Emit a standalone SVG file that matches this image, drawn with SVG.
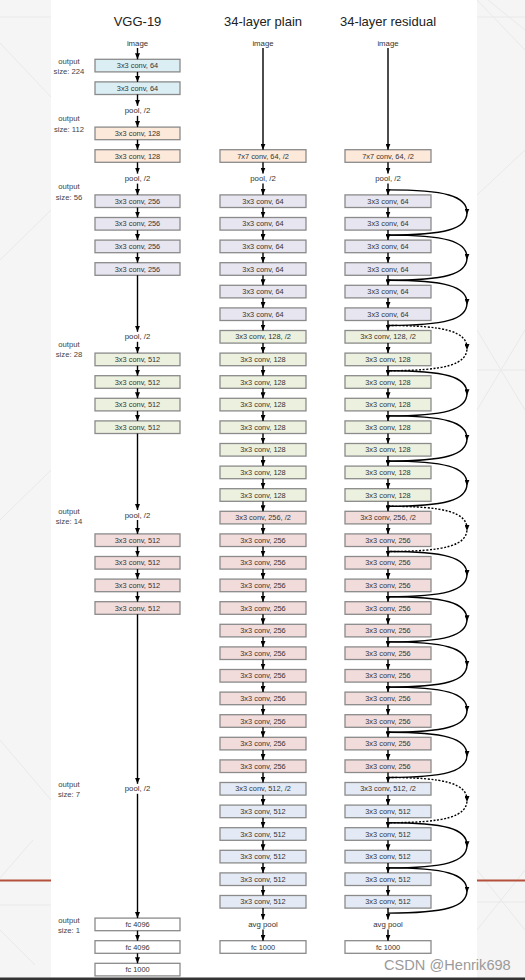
<svg xmlns="http://www.w3.org/2000/svg" width="525" height="980" viewBox="0 0 525 980">
<style>
.bg{fill:#f5f5f5}
.panel{fill:#ffffff}
.deco{stroke:#e9e9e9;stroke-width:1;fill:none}
.b{stroke:#8a8a8a;stroke-width:1.3}
.c1{fill:#daeef3}.c2{fill:#fde9d9}.c3{fill:#e7e5ef}.c4{fill:#ebf1de}.c5{fill:#f2dcdb}.c6{fill:#e4eaf5}.fc{fill:#ffffff}
text{font-family:"Liberation Sans",Arial,sans-serif;text-anchor:middle;dominant-baseline:central;fill:#333}
.bt{font-size:7.4px}
.lb{font-size:7.8px}
.out{font-size:7.7px;fill:#444}
.title{font-size:13px;fill:#222}
.a{stroke:#000;stroke-width:1.4;fill:none;marker-end:url(#ah)}
.s{stroke:#000;stroke-width:1.4;fill:none;marker-mid:url(#am)}
.d{stroke-dasharray:2 1.6}
.wm{font-size:14.6px;fill:#9a9a9a;text-anchor:start}
</style>
<defs>
<marker id="ah" viewBox="0 0 6 5" refX="6" refY="2.5" markerWidth="6" markerHeight="5" orient="auto" markerUnits="userSpaceOnUse"><path d="M0,0L6,2.5L0,5z" fill="#000"/></marker>
<marker id="am" viewBox="0 0 6 5" refX="4" refY="2.5" markerWidth="6" markerHeight="5" orient="auto" markerUnits="userSpaceOnUse"><path d="M0,0L6,2.5L0,5z" fill="#000"/></marker>
</defs>
<g id="background">
<rect class="bg" x="0" y="0" width="525" height="980"/>
<rect class="panel" x="51" y="0" width="426" height="978"/>
<path class="deco" d="M0,17H51M477,17H525M0,43L51,97M0,260L51,210M0,520L51,470M0,740L51,800M0,905H51M0,930L35,965M33,840L0,878M477,0L525,50M488,0L525,30M477,330L525,410M477,410L525,330M477,370H525M477,870L525,930M477,930L525,870M477,902H525M477,195L525,150"/>
<path d="M0,880.5H51M477,880.5H525" stroke="#b5503c" stroke-width="2"/>
<rect x="0" y="977.5" width="525" height="2.5" fill="#333"/>
</g>
<g id="titles">
<text class="title" x="137.5" y="21">VGG-19</text>
<text class="title" x="263" y="21">34-layer plain</text>
<text class="title" x="388" y="21">34-layer residual</text>
</g>
<g id="output-labels">
<text class="out" x="69" y="61">output</text><text class="out" x="69" y="71.5">size: 224</text>
<text class="out" x="69" y="118">output</text><text class="out" x="69" y="129">size: 112</text>
<text class="out" x="69" y="186">output</text><text class="out" x="69" y="197">size: 56</text>
<text class="out" x="69" y="344">output</text><text class="out" x="69" y="354.5">size: 28</text>
<text class="out" x="69" y="511.5">output</text><text class="out" x="69" y="521">size: 14</text>
<text class="out" x="69" y="784">output</text><text class="out" x="69" y="794.5">size: 7</text>
<text class="out" x="69" y="920">output</text><text class="out" x="69" y="930.5">size: 1</text>
</g>
<g id="vgg">
<g id="vgg-image"><text class="lb" x="137.5" y="43">image</text></g>
<g id="vgg-1" transform="translate(95,65.6)"><rect class="b c1" y="-6.3" width="85" height="12.6"/><text class="bt" x="42.5">3x3 conv, 64</text></g>
<g id="vgg-2" transform="translate(95,88.2)"><rect class="b c1" y="-6.3" width="85" height="12.6"/><text class="bt" x="42.5">3x3 conv, 64</text></g>
<g id="vgg-pool1"><text class="lb" x="137.5" y="110.8">pool, /2</text></g>
<g id="vgg-3" transform="translate(95,133.4)"><rect class="b c2" y="-6.3" width="85" height="12.6"/><text class="bt" x="42.5">3x3 conv, 128</text></g>
<g id="vgg-4" transform="translate(95,156)"><rect class="b c2" y="-6.3" width="85" height="12.6"/><text class="bt" x="42.5">3x3 conv, 128</text></g>
<g id="vgg-pool2"><text class="lb" x="137.5" y="178.6">pool, /2</text></g>
<g id="vgg-5" transform="translate(95,201.2)"><rect class="b c3" y="-6.3" width="85" height="12.6"/><text class="bt" x="42.5">3x3 conv, 256</text></g>
<g id="vgg-6" transform="translate(95,223.8)"><rect class="b c3" y="-6.3" width="85" height="12.6"/><text class="bt" x="42.5">3x3 conv, 256</text></g>
<g id="vgg-7" transform="translate(95,246.4)"><rect class="b c3" y="-6.3" width="85" height="12.6"/><text class="bt" x="42.5">3x3 conv, 256</text></g>
<g id="vgg-8" transform="translate(95,269)"><rect class="b c3" y="-6.3" width="85" height="12.6"/><text class="bt" x="42.5">3x3 conv, 256</text></g>
<g id="vgg-pool3"><text class="lb" x="137.5" y="336.8">pool, /2</text></g>
<g id="vgg-9" transform="translate(95,359.4)"><rect class="b c4" y="-6.3" width="85" height="12.6"/><text class="bt" x="42.5">3x3 conv, 512</text></g>
<g id="vgg-10" transform="translate(95,382)"><rect class="b c4" y="-6.3" width="85" height="12.6"/><text class="bt" x="42.5">3x3 conv, 512</text></g>
<g id="vgg-11" transform="translate(95,404.6)"><rect class="b c4" y="-6.3" width="85" height="12.6"/><text class="bt" x="42.5">3x3 conv, 512</text></g>
<g id="vgg-12" transform="translate(95,427.2)"><rect class="b c4" y="-6.3" width="85" height="12.6"/><text class="bt" x="42.5">3x3 conv, 512</text></g>
<g id="vgg-pool4"><text class="lb" x="137.5" y="515">pool, /2</text></g>
<g id="vgg-13" transform="translate(95,540.2)"><rect class="b c5" y="-6.3" width="85" height="12.6"/><text class="bt" x="42.5">3x3 conv, 512</text></g>
<g id="vgg-14" transform="translate(95,562.8)"><rect class="b c5" y="-6.3" width="85" height="12.6"/><text class="bt" x="42.5">3x3 conv, 512</text></g>
<g id="vgg-15" transform="translate(95,585.4)"><rect class="b c5" y="-6.3" width="85" height="12.6"/><text class="bt" x="42.5">3x3 conv, 512</text></g>
<g id="vgg-16" transform="translate(95,608)"><rect class="b c5" y="-6.3" width="85" height="12.6"/><text class="bt" x="42.5">3x3 conv, 512</text></g>
<g id="vgg-pool5"><text class="lb" x="137.5" y="788.8">pool, /2</text></g>
<g id="vgg-fc1" transform="translate(95,924.4)"><rect class="b fc" y="-6.3" width="85" height="12.6"/><text class="bt" x="42.5">fc 4096</text></g>
<g id="vgg-fc2" transform="translate(95,947)"><rect class="b fc" y="-6.3" width="85" height="12.6"/><text class="bt" x="42.5">fc 4096</text></g>
<g id="vgg-fc3" transform="translate(95,969.6)"><rect class="b fc" y="-6.3" width="85" height="12.6"/><text class="bt" x="42.5">fc 1000</text></g>
</g>
<g id="plain">
<g id="plain-image"><text class="lb" x="263" y="43">image</text></g>
<g id="plain-conv1" transform="translate(220,156)"><rect class="b c2" y="-6.3" width="86" height="12.6"/><text class="bt" x="43">7x7 conv, 64, /2</text></g>
<g id="plain-pool"><text class="lb" x="263" y="178.6">pool, /2</text></g>
<g id="plain-2" transform="translate(220,201.2)"><rect class="b c3" y="-6.3" width="86" height="12.6"/><text class="bt" x="43">3x3 conv, 64</text></g>
<g id="plain-3" transform="translate(220,223.8)"><rect class="b c3" y="-6.3" width="86" height="12.6"/><text class="bt" x="43">3x3 conv, 64</text></g>
<g id="plain-4" transform="translate(220,246.4)"><rect class="b c3" y="-6.3" width="86" height="12.6"/><text class="bt" x="43">3x3 conv, 64</text></g>
<g id="plain-5" transform="translate(220,269)"><rect class="b c3" y="-6.3" width="86" height="12.6"/><text class="bt" x="43">3x3 conv, 64</text></g>
<g id="plain-6" transform="translate(220,291.6)"><rect class="b c3" y="-6.3" width="86" height="12.6"/><text class="bt" x="43">3x3 conv, 64</text></g>
<g id="plain-7" transform="translate(220,314.2)"><rect class="b c3" y="-6.3" width="86" height="12.6"/><text class="bt" x="43">3x3 conv, 64</text></g>
<g id="plain-8" transform="translate(220,336.8)"><rect class="b c4" y="-6.3" width="86" height="12.6"/><text class="bt" x="43">3x3 conv, 128, /2</text></g>
<g id="plain-9" transform="translate(220,359.4)"><rect class="b c4" y="-6.3" width="86" height="12.6"/><text class="bt" x="43">3x3 conv, 128</text></g>
<g id="plain-10" transform="translate(220,382)"><rect class="b c4" y="-6.3" width="86" height="12.6"/><text class="bt" x="43">3x3 conv, 128</text></g>
<g id="plain-11" transform="translate(220,404.6)"><rect class="b c4" y="-6.3" width="86" height="12.6"/><text class="bt" x="43">3x3 conv, 128</text></g>
<g id="plain-12" transform="translate(220,427.2)"><rect class="b c4" y="-6.3" width="86" height="12.6"/><text class="bt" x="43">3x3 conv, 128</text></g>
<g id="plain-13" transform="translate(220,449.8)"><rect class="b c4" y="-6.3" width="86" height="12.6"/><text class="bt" x="43">3x3 conv, 128</text></g>
<g id="plain-14" transform="translate(220,472.4)"><rect class="b c4" y="-6.3" width="86" height="12.6"/><text class="bt" x="43">3x3 conv, 128</text></g>
<g id="plain-15" transform="translate(220,495)"><rect class="b c4" y="-6.3" width="86" height="12.6"/><text class="bt" x="43">3x3 conv, 128</text></g>
<g id="plain-16" transform="translate(220,517.6)"><rect class="b c5" y="-6.3" width="86" height="12.6"/><text class="bt" x="43">3x3 conv, 256, /2</text></g>
<g id="plain-17" transform="translate(220,540.2)"><rect class="b c5" y="-6.3" width="86" height="12.6"/><text class="bt" x="43">3x3 conv, 256</text></g>
<g id="plain-18" transform="translate(220,562.8)"><rect class="b c5" y="-6.3" width="86" height="12.6"/><text class="bt" x="43">3x3 conv, 256</text></g>
<g id="plain-19" transform="translate(220,585.4)"><rect class="b c5" y="-6.3" width="86" height="12.6"/><text class="bt" x="43">3x3 conv, 256</text></g>
<g id="plain-20" transform="translate(220,608)"><rect class="b c5" y="-6.3" width="86" height="12.6"/><text class="bt" x="43">3x3 conv, 256</text></g>
<g id="plain-21" transform="translate(220,630.6)"><rect class="b c5" y="-6.3" width="86" height="12.6"/><text class="bt" x="43">3x3 conv, 256</text></g>
<g id="plain-22" transform="translate(220,653.2)"><rect class="b c5" y="-6.3" width="86" height="12.6"/><text class="bt" x="43">3x3 conv, 256</text></g>
<g id="plain-23" transform="translate(220,675.8)"><rect class="b c5" y="-6.3" width="86" height="12.6"/><text class="bt" x="43">3x3 conv, 256</text></g>
<g id="plain-24" transform="translate(220,698.4)"><rect class="b c5" y="-6.3" width="86" height="12.6"/><text class="bt" x="43">3x3 conv, 256</text></g>
<g id="plain-25" transform="translate(220,721)"><rect class="b c5" y="-6.3" width="86" height="12.6"/><text class="bt" x="43">3x3 conv, 256</text></g>
<g id="plain-26" transform="translate(220,743.6)"><rect class="b c5" y="-6.3" width="86" height="12.6"/><text class="bt" x="43">3x3 conv, 256</text></g>
<g id="plain-27" transform="translate(220,766.2)"><rect class="b c5" y="-6.3" width="86" height="12.6"/><text class="bt" x="43">3x3 conv, 256</text></g>
<g id="plain-28" transform="translate(220,788.8)"><rect class="b c6" y="-6.3" width="86" height="12.6"/><text class="bt" x="43">3x3 conv, 512, /2</text></g>
<g id="plain-29" transform="translate(220,811.4)"><rect class="b c6" y="-6.3" width="86" height="12.6"/><text class="bt" x="43">3x3 conv, 512</text></g>
<g id="plain-30" transform="translate(220,834)"><rect class="b c6" y="-6.3" width="86" height="12.6"/><text class="bt" x="43">3x3 conv, 512</text></g>
<g id="plain-31" transform="translate(220,856.6)"><rect class="b c6" y="-6.3" width="86" height="12.6"/><text class="bt" x="43">3x3 conv, 512</text></g>
<g id="plain-32" transform="translate(220,879.2)"><rect class="b c6" y="-6.3" width="86" height="12.6"/><text class="bt" x="43">3x3 conv, 512</text></g>
<g id="plain-33" transform="translate(220,901.8)"><rect class="b c6" y="-6.3" width="86" height="12.6"/><text class="bt" x="43">3x3 conv, 512</text></g>
<g id="plain-avgpool"><text class="lb" x="263" y="924.4">avg pool</text></g>
<g id="plain-fc" transform="translate(220,947)"><rect class="b fc" y="-6.3" width="86" height="12.6"/><text class="bt" x="43">fc 1000</text></g>
</g>
<g id="residual">
<g id="res-image"><text class="lb" x="388" y="43">image</text></g>
<g id="res-conv1" transform="translate(345,156)"><rect class="b c2" y="-6.3" width="86" height="12.6"/><text class="bt" x="43">7x7 conv, 64, /2</text></g>
<g id="res-pool"><text class="lb" x="388" y="178.6">pool, /2</text></g>
<g id="res-2" transform="translate(345,201.2)"><rect class="b c3" y="-6.3" width="86" height="12.6"/><text class="bt" x="43">3x3 conv, 64</text></g>
<g id="res-3" transform="translate(345,223.8)"><rect class="b c3" y="-6.3" width="86" height="12.6"/><text class="bt" x="43">3x3 conv, 64</text></g>
<g id="res-4" transform="translate(345,246.4)"><rect class="b c3" y="-6.3" width="86" height="12.6"/><text class="bt" x="43">3x3 conv, 64</text></g>
<g id="res-5" transform="translate(345,269)"><rect class="b c3" y="-6.3" width="86" height="12.6"/><text class="bt" x="43">3x3 conv, 64</text></g>
<g id="res-6" transform="translate(345,291.6)"><rect class="b c3" y="-6.3" width="86" height="12.6"/><text class="bt" x="43">3x3 conv, 64</text></g>
<g id="res-7" transform="translate(345,314.2)"><rect class="b c3" y="-6.3" width="86" height="12.6"/><text class="bt" x="43">3x3 conv, 64</text></g>
<g id="res-8" transform="translate(345,336.8)"><rect class="b c4" y="-6.3" width="86" height="12.6"/><text class="bt" x="43">3x3 conv, 128, /2</text></g>
<g id="res-9" transform="translate(345,359.4)"><rect class="b c4" y="-6.3" width="86" height="12.6"/><text class="bt" x="43">3x3 conv, 128</text></g>
<g id="res-10" transform="translate(345,382)"><rect class="b c4" y="-6.3" width="86" height="12.6"/><text class="bt" x="43">3x3 conv, 128</text></g>
<g id="res-11" transform="translate(345,404.6)"><rect class="b c4" y="-6.3" width="86" height="12.6"/><text class="bt" x="43">3x3 conv, 128</text></g>
<g id="res-12" transform="translate(345,427.2)"><rect class="b c4" y="-6.3" width="86" height="12.6"/><text class="bt" x="43">3x3 conv, 128</text></g>
<g id="res-13" transform="translate(345,449.8)"><rect class="b c4" y="-6.3" width="86" height="12.6"/><text class="bt" x="43">3x3 conv, 128</text></g>
<g id="res-14" transform="translate(345,472.4)"><rect class="b c4" y="-6.3" width="86" height="12.6"/><text class="bt" x="43">3x3 conv, 128</text></g>
<g id="res-15" transform="translate(345,495)"><rect class="b c4" y="-6.3" width="86" height="12.6"/><text class="bt" x="43">3x3 conv, 128</text></g>
<g id="res-16" transform="translate(345,517.6)"><rect class="b c5" y="-6.3" width="86" height="12.6"/><text class="bt" x="43">3x3 conv, 256, /2</text></g>
<g id="res-17" transform="translate(345,540.2)"><rect class="b c5" y="-6.3" width="86" height="12.6"/><text class="bt" x="43">3x3 conv, 256</text></g>
<g id="res-18" transform="translate(345,562.8)"><rect class="b c5" y="-6.3" width="86" height="12.6"/><text class="bt" x="43">3x3 conv, 256</text></g>
<g id="res-19" transform="translate(345,585.4)"><rect class="b c5" y="-6.3" width="86" height="12.6"/><text class="bt" x="43">3x3 conv, 256</text></g>
<g id="res-20" transform="translate(345,608)"><rect class="b c5" y="-6.3" width="86" height="12.6"/><text class="bt" x="43">3x3 conv, 256</text></g>
<g id="res-21" transform="translate(345,630.6)"><rect class="b c5" y="-6.3" width="86" height="12.6"/><text class="bt" x="43">3x3 conv, 256</text></g>
<g id="res-22" transform="translate(345,653.2)"><rect class="b c5" y="-6.3" width="86" height="12.6"/><text class="bt" x="43">3x3 conv, 256</text></g>
<g id="res-23" transform="translate(345,675.8)"><rect class="b c5" y="-6.3" width="86" height="12.6"/><text class="bt" x="43">3x3 conv, 256</text></g>
<g id="res-24" transform="translate(345,698.4)"><rect class="b c5" y="-6.3" width="86" height="12.6"/><text class="bt" x="43">3x3 conv, 256</text></g>
<g id="res-25" transform="translate(345,721)"><rect class="b c5" y="-6.3" width="86" height="12.6"/><text class="bt" x="43">3x3 conv, 256</text></g>
<g id="res-26" transform="translate(345,743.6)"><rect class="b c5" y="-6.3" width="86" height="12.6"/><text class="bt" x="43">3x3 conv, 256</text></g>
<g id="res-27" transform="translate(345,766.2)"><rect class="b c5" y="-6.3" width="86" height="12.6"/><text class="bt" x="43">3x3 conv, 256</text></g>
<g id="res-28" transform="translate(345,788.8)"><rect class="b c6" y="-6.3" width="86" height="12.6"/><text class="bt" x="43">3x3 conv, 512, /2</text></g>
<g id="res-29" transform="translate(345,811.4)"><rect class="b c6" y="-6.3" width="86" height="12.6"/><text class="bt" x="43">3x3 conv, 512</text></g>
<g id="res-30" transform="translate(345,834)"><rect class="b c6" y="-6.3" width="86" height="12.6"/><text class="bt" x="43">3x3 conv, 512</text></g>
<g id="res-31" transform="translate(345,856.6)"><rect class="b c6" y="-6.3" width="86" height="12.6"/><text class="bt" x="43">3x3 conv, 512</text></g>
<g id="res-32" transform="translate(345,879.2)"><rect class="b c6" y="-6.3" width="86" height="12.6"/><text class="bt" x="43">3x3 conv, 512</text></g>
<g id="res-33" transform="translate(345,901.8)"><rect class="b c6" y="-6.3" width="86" height="12.6"/><text class="bt" x="43">3x3 conv, 512</text></g>
<g id="res-avgpool"><text class="lb" x="388" y="924.4">avg pool</text></g>
<g id="res-fc" transform="translate(345,947)"><rect class="b fc" y="-6.3" width="86" height="12.6"/><text class="bt" x="43">fc 1000</text></g>
</g>
<g id="connectors">
<path class="a" d="M137.5,48V59.3"/><path class="a" d="M137.5,71.9V81.9"/><path class="a" d="M137.5,94.5V105.8"/><path class="a" d="M137.5,115.8V127.1"/><path class="a" d="M137.5,139.7V149.7"/><path class="a" d="M137.5,162.3V173.6"/><path class="a" d="M137.5,183.6V194.9"/><path class="a" d="M137.5,207.5V217.5"/><path class="a" d="M137.5,230.1V240.1"/><path class="a" d="M137.5,252.7V262.7"/><path class="a" d="M137.5,275.3V331.8"/><path class="a" d="M137.5,341.8V353.1"/><path class="a" d="M137.5,365.7V375.7"/><path class="a" d="M137.5,388.3V398.3"/><path class="a" d="M137.5,410.9V420.9"/><path class="a" d="M137.5,433.5V510"/><path class="a" d="M137.5,520V533.9"/><path class="a" d="M137.5,546.5V556.5"/><path class="a" d="M137.5,569.1V579.1"/><path class="a" d="M137.5,591.7V601.7"/><path class="a" d="M137.5,614.3V783.8"/><path class="a" d="M137.5,793.8V918.1"/><path class="a" d="M137.5,930.7V940.7"/><path class="a" d="M137.5,953.3V963.3"/>
<path class="a" d="M263,48V149.7"/><path class="a" d="M263,162.3V173.6"/><path class="a" d="M263,183.6V194.9"/><path class="a" d="M263,207.5V217.5"/><path class="a" d="M263,230.1V240.1"/><path class="a" d="M263,252.7V262.7"/><path class="a" d="M263,275.3V285.3"/><path class="a" d="M263,297.9V307.9"/><path class="a" d="M263,320.5V330.5"/><path class="a" d="M263,343.1V353.1"/><path class="a" d="M263,365.7V375.7"/><path class="a" d="M263,388.3V398.3"/><path class="a" d="M263,410.9V420.9"/><path class="a" d="M263,433.5V443.5"/><path class="a" d="M263,456.1V466.1"/><path class="a" d="M263,478.7V488.7"/><path class="a" d="M263,501.3V511.3"/><path class="a" d="M263,523.9V533.9"/><path class="a" d="M263,546.5V556.5"/><path class="a" d="M263,569.1V579.1"/><path class="a" d="M263,591.7V601.7"/><path class="a" d="M263,614.3V624.3"/><path class="a" d="M263,636.9V646.9"/><path class="a" d="M263,659.5V669.5"/><path class="a" d="M263,682.1V692.1"/><path class="a" d="M263,704.7V714.7"/><path class="a" d="M263,727.3V737.3"/><path class="a" d="M263,749.9V759.9"/><path class="a" d="M263,772.5V782.5"/><path class="a" d="M263,795.1V805.1"/><path class="a" d="M263,817.7V827.7"/><path class="a" d="M263,840.3V850.3"/><path class="a" d="M263,862.9V872.9"/><path class="a" d="M263,885.5V895.5"/><path class="a" d="M263,908.1V919.6"/><path class="a" d="M263,929.4V940.7"/>
<path class="a" d="M388,48V149.7"/><path class="a" d="M388,162.3V173.6"/><path class="a" d="M388,183.6V194.9"/><path class="a" d="M388,207.5V217.5"/><path class="a" d="M388,230.1V240.1"/><path class="a" d="M388,252.7V262.7"/><path class="a" d="M388,275.3V285.3"/><path class="a" d="M388,297.9V307.9"/><path class="a" d="M388,320.5V330.5"/><path class="a" d="M388,343.1V353.1"/><path class="a" d="M388,365.7V375.7"/><path class="a" d="M388,388.3V398.3"/><path class="a" d="M388,410.9V420.9"/><path class="a" d="M388,433.5V443.5"/><path class="a" d="M388,456.1V466.1"/><path class="a" d="M388,478.7V488.7"/><path class="a" d="M388,501.3V511.3"/><path class="a" d="M388,523.9V533.9"/><path class="a" d="M388,546.5V556.5"/><path class="a" d="M388,569.1V579.1"/><path class="a" d="M388,591.7V601.7"/><path class="a" d="M388,614.3V624.3"/><path class="a" d="M388,636.9V646.9"/><path class="a" d="M388,659.5V669.5"/><path class="a" d="M388,682.1V692.1"/><path class="a" d="M388,704.7V714.7"/><path class="a" d="M388,727.3V737.3"/><path class="a" d="M388,749.9V759.9"/><path class="a" d="M388,772.5V782.5"/><path class="a" d="M388,795.1V805.1"/><path class="a" d="M388,817.7V827.7"/><path class="a" d="M388,840.3V850.3"/><path class="a" d="M388,862.9V872.9"/><path class="a" d="M388,885.5V895.5"/><path class="a" d="M388,908.1V919.6"/><path class="a" d="M388,929.4V940.7"/>
<path class="s" d="M388,189.9C445,189.9 467,195.9 467,212.5C467,229.1 445,235.1 388,235.1"/>
<path class="s" d="M388,235.1C445,235.1 467,241.1 467,257.7C467,274.3 445,280.3 388,280.3"/>
<path class="s" d="M388,280.3C445,280.3 467,286.3 467,302.9C467,319.5 445,325.5 388,325.5"/>
<path class="s d" d="M388,325.5C445,325.5 467,331.5 467,348.1C467,364.7 445,370.7 388,370.7"/>
<path class="s" d="M388,370.7C445,370.7 467,376.7 467,393.3C467,409.9 445,415.9 388,415.9"/>
<path class="s" d="M388,415.9C445,415.9 467,421.9 467,438.5C467,455.1 445,461.1 388,461.1"/>
<path class="s" d="M388,461.1C445,461.1 467,467.1 467,483.7C467,500.3 445,506.3 388,506.3"/>
<path class="s d" d="M388,506.3C445,506.3 467,512.3 467,528.9C467,545.5 445,551.5 388,551.5"/>
<path class="s" d="M388,551.5C445,551.5 467,557.5 467,574.1C467,590.7 445,596.7 388,596.7"/>
<path class="s" d="M388,596.7C445,596.7 467,602.7 467,619.3C467,635.9 445,641.9 388,641.9"/>
<path class="s" d="M388,641.9C445,641.9 467,647.9 467,664.5C467,681.1 445,687.1 388,687.1"/>
<path class="s" d="M388,687.1C445,687.1 467,693.1 467,709.7C467,726.3 445,732.3 388,732.3"/>
<path class="s" d="M388,732.3C445,732.3 467,738.3 467,754.9C467,771.5 445,777.5 388,777.5"/>
<path class="s d" d="M388,777.5C445,777.5 467,783.5 467,800.1C467,816.7 445,822.7 388,822.7"/>
<path class="s" d="M388,822.7C445,822.7 467,828.7 467,845.3C467,861.9 445,867.9 388,867.9"/>
<path class="s" d="M388,867.9C445,867.9 467,873.9 467,890.5C467,907.1 445,913.1 388,913.1"/>
</g>
<g id="watermark"><text class="wm" x="384" y="965">CSDN @Henrik698</text></g>
</svg>
